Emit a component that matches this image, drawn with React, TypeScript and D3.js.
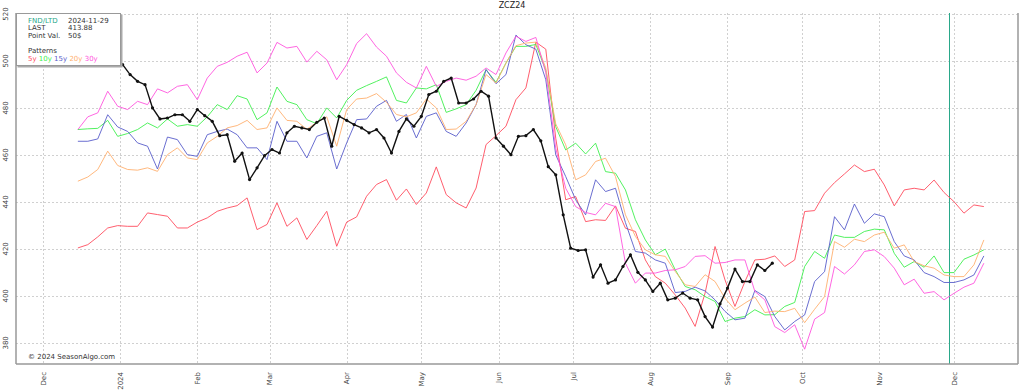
import { useEffect, useRef } from 'react';
import * as d3 from 'd3';

const title = 'ZCZ24';
const patternStart = '2023-12-15';
const patternStepDays = 4;
const currentStart = '2024-01-02';
const currentStepDays = 3;
const fndDate = '2024-11-29';
const lastPrice = '413.88';
const pointValue = '50$';

const monthTicks = ['2023-12-01', '2024-01-01', '2024-02-01', '2024-03-01', '2024-04-01', '2024-05-01', '2024-06-01', '2024-07-01', '2024-08-01', '2024-09-01', '2024-10-01', '2024-11-01', '2024-12-01'];
const monthLabels = ['Dec', '2024', 'Feb', 'Mar', 'Apr', 'May', 'Jun', 'Jul', 'Aug', 'Sep', 'Oct', 'Nov', 'Dec'];
const yTicks = [380, 400, 420, 440, 460, 480, 500, 520];

const pattern5y = [
	420.4, 421.8, 425.1, 428.9, 429.9, 429.6, 429.6, 435.3, 434.6, 433.9, 428.9, 428.9, 431.4, 433.2, 436, 437.4, 438.4, 441.7, 428.2, 430.4,
	439.6, 429.6, 433.2, 424, 429.9, 436, 421.1, 431.4, 433.6, 442.4, 447.4, 449.5, 440.7, 445.5, 438.9, 443.8, 454.9, 443.1, 439.6, 437.4,
	445.9, 464.4, 468.2, 472.2, 483.5, 488.5, 508, 505, 467.1, 440.9, 442.3, 431.6, 432.4, 432.1, 438.3, 428.8, 427.4, 415.3, 408.2, 405.4,
	400.4, 394.8, 387, 401.2, 421, 406.8, 395.5, 406.1, 415.3, 415.6, 417, 412.5, 415.3, 435.9, 436.3, 443.7, 448.2, 451.9, 455.7, 452.9,
	453.9, 447.2, 438.3, 445.1, 445.8, 445.1, 449.3, 444, 440.1, 435.2, 438.7, 438,
];
const pattern10y = [
	470.8, 471.1, 471.3, 474.7, 467.9, 469.1, 470.8, 473.6, 471.5, 475.3, 472.2, 472.9, 472.2, 476.2, 481.4, 479.3, 485.2, 483.8, 475, 477.9,
	488.9, 482.8, 481.4, 475, 473.3, 480, 475.7, 483.2, 487.5, 489.5, 491.3, 493.2, 483.2, 482.1, 488.5, 488.1, 489.9, 478.1, 479.6, 481.4,
	487.5, 496.3, 490.9, 499.1, 506.2, 506.2, 507, 496, 472, 462.1, 465, 460.4, 465, 452.9, 452.2, 445.1, 432.4, 423.8, 417.5, 419.9,
	411.1, 404, 402.6, 399.7, 397.6, 389.1, 390.5, 391.2, 394.1, 391.9, 392, 395.5, 397.2, 412.5, 418.9, 416, 425.9, 424.9, 424.9, 427.4,
	428.4, 428.1, 418.1, 412.2, 414.6, 412.2, 417, 409.9, 409.9, 415.6, 417.4, 419.6,
];
const pattern15y = [
	465.8, 465.8, 466.8, 477.1, 471.9, 470, 465.1, 463.7, 454, 467.6, 466.5, 460.1, 459.4, 468.6, 470, 471, 468.6, 463, 463, 458,
	474.3, 465.8, 465.8, 458.7, 467.9, 469.4, 454, 465.1, 475, 475.3, 480.7, 483.2, 474.3, 477.2, 467.2, 476.4, 477.9, 470, 467.9, 473.6,
	481.4, 496.3, 490.3, 494.2, 511, 506.9, 505, 492, 460, 450.8, 440.9, 434.5, 449.4, 444.4, 445.8, 431.2, 418.9, 418.2, 415.3, 413.9,
	401.4, 401.9, 403.7, 402.1, 398.3, 393.4, 389.8, 390.5, 402.3, 399.7, 391.2, 385.5, 389.1, 391.9, 406.1, 410.3, 433.7, 428.1, 439.1, 430.9,
	434.9, 433.7, 423.1, 417, 415.3, 409.9, 408.2, 405.7, 405.7, 406.8, 408.9, 417,
];
const pattern20y = [
	448.8, 450.6, 453.8, 461.6, 455.5, 453.8, 453.5, 454.5, 453, 460.1, 463, 458.7, 458, 465.1, 467.9, 471.5, 472.5, 474.7, 470.8, 471.5,
	480, 474.7, 474.3, 470.9, 473.9, 476.2, 463.7, 479.3, 483.8, 484.2, 486.1, 482.4, 477.2, 476.2, 477.9, 483.8, 480, 470.8, 471, 474.3,
	481.4, 494.2, 490.6, 499.1, 506.5, 507.6, 508, 497, 473.2, 464.3, 449.4, 451.5, 457.2, 458.6, 450.8, 434.5, 425.3, 419.6, 417.5, 416.8,
	410.4, 404.7, 404, 409, 406.1, 399, 394.1, 396.9, 399.5, 392.9, 393.5, 393.3, 394.7, 388.6, 394.3, 399.7, 423.1, 420.7, 424.1, 423.1,
	425.9, 427.1, 420.3, 421.7, 414.6, 412.8, 411.8, 408.9, 408.2, 408.2, 413.2, 423.8,
];
const pattern30y = [
	470.8, 476.2, 477.9, 487.1, 480.7, 479.3, 482.8, 481.4, 488.1, 486.4, 489.2, 489.9, 483.5, 492.7, 497.7, 499.4, 502, 503.7, 494.9, 499.1,
	507.9, 505.5, 506.2, 499.5, 504.1, 500.5, 492, 498.4, 507.4, 511.6, 505.9, 502, 494.9, 490.9, 488.5, 497.7, 489.2, 491.3, 492.7, 491.8,
	493.5, 497, 494.2, 503.4, 510.5, 508.3, 510, 495, 462.8, 445.8, 438, 435.5, 434.5, 439.4, 438, 413.9, 405.4, 409.7, 409.7, 410.8,
	411.1, 412.5, 416.8, 417.1, 413.9, 414.2, 415.3, 415.3, 401.9, 398.3, 386.9, 384.4, 387.7, 377.3, 390.1, 392.9, 412.5, 409.3, 413.2, 418.9,
	419.6, 416.7, 411.8, 404.7, 407.1, 401.1, 401.8, 398.3, 401.1, 403.7, 405.4, 413.9,
];
const current = [
	498.4, 494.2, 491.3, 489.9, 480, 475.3, 475.7, 477.1, 477.1, 474.3, 479.3, 476.7, 474.3, 468.2, 468.6, 457.3, 460.8, 449.5, 454.5, 459.7,
	462.3, 460.8, 469.4, 472.2, 471.5, 470.8, 473.9, 475.7, 463.7, 476.4, 474.7, 472.9, 471.5, 469.4, 470.8, 467.2, 460.8, 470, 475.3, 472.2,
	476.4, 485.7, 487.1, 491.3, 492.7, 482.1, 482.1, 483.8, 487.1, 485, 467.2, 463.7, 460.1, 467.9, 468.2, 470.8, 466, 455, 451.5, 434.5,
	420.3, 419.3, 419.6, 408, 413.2, 405.4, 406.8, 412.5, 417.5, 410, 406.8, 401.9, 405.4, 398.3, 399, 401.2, 399, 398.3, 391.2, 386.7,
	396.6, 403.3, 411.4, 406.1, 406.1, 413.2, 410.8, 413.9,
];

const patternNames = ['5y', '10y', '15y', '20y', '30y'];
const patternColors = ['#ff4d5e', '#3fef4f', '#5a5ecb', '#ffb070', '#ff55de'];

export default function App() {
	const svgRef = useRef<SVGSVGElement | null>(null);
	const width = 1023;
	const height = 391;

	useEffect(() => {
		if (!svgRef.current) return;
		const svg = d3.select(svgRef.current);
		svg.selectAll('*').remove();

		const plot = { left: 16, right: 1018, top: 13, bottom: 364 };
		const parse = d3.utcParse('%Y-%m-%d');

		const x = d3
			.scaleUtc()
			.domain([parse('2023-12-01')!, parse('2024-12-01')!])
			.range([43, 954]);
		const y = d3.scaleLinear().domain([371, 520.4]).range([plot.bottom, plot.top]);

		const font = 'DejaVu Sans, sans-serif';

		// grid
		const grid = svg.append('g').attr('stroke', '#d0d0d0').attr('stroke-dasharray', '2,2').attr('stroke-width', 1);
		yTicks.forEach((t) => {
			grid.append('line').attr('x1', plot.left).attr('x2', plot.right).attr('y1', Math.round(y(t)) + 0.5).attr('y2', Math.round(y(t)) + 0.5);
		});
		monthTicks.forEach((t) => {
			const px = Math.round(x(parse(t)!)) + 0.5;
			grid.append('line').attr('x1', px).attr('x2', px).attr('y1', plot.top).attr('y2', plot.bottom);
		});

		// FND line
		const fx = Math.round(x(parse(fndDate)!)) + 0.5;
		svg.append('line').attr('x1', fx).attr('x2', fx).attr('y1', plot.top).attr('y2', plot.bottom).attr('stroke', '#2aa88a').attr('stroke-width', 1);

		// patterns
		const pStart = parse(patternStart)!;
		const line = d3
			.line<[Date, number]>()
			.x((d) => x(d[0]))
			.y((d) => y(d[1]));
		[pattern5y, pattern10y, pattern15y, pattern20y, pattern30y].forEach((series, i) => {
			const pts = series.map((v, k) => [d3.utcDay.offset(pStart, k * patternStepDays), v] as [Date, number]);
			svg.append('path').datum(pts).attr('d', line).attr('fill', 'none').attr('stroke', patternColors[i]).attr('stroke-width', 1).attr('stroke-opacity', 0.9);
		});

		// current contract
		const cStart = parse(currentStart)!;
		const cur = current.map((v, j) => [d3.utcDay.offset(cStart, j * currentStepDays), v] as [Date, number]);
		svg.append('path').datum(cur).attr('d', line).attr('fill', 'none').attr('stroke', '#111').attr('stroke-width', 1.4);
		svg
			.append('g')
			.selectAll('circle')
			.data(cur)
			.join('circle')
			.attr('cx', (d) => x(d[0]))
			.attr('cy', (d) => y(d[1]))
			.attr('r', 1.6)
			.attr('fill', '#111');

		// frame
		const frame = svg.append('g').attr('stroke', '#999').attr('stroke-width', 1.5).attr('fill', 'none');
		frame.append('line').attr('x1', plot.left).attr('x2', plot.left).attr('y1', plot.top).attr('y2', plot.bottom);
		frame.append('line').attr('x1', plot.left).attr('x2', plot.right).attr('y1', plot.bottom).attr('y2', plot.bottom);
		frame.append('line').attr('x1', plot.right).attr('x2', plot.right).attr('y1', plot.top).attr('y2', plot.bottom);

		// y labels
		yTicks.forEach((t) => {
			svg
				.append('text')
				.attr('transform', `translate(8,${y(t)}) rotate(-90)`)
				.attr('text-anchor', 'middle')
				.style('font-family', font)
				.style('font-size', '7px')
				.style('fill', '#444')
				.text(String(t));
		});

		// x labels
		monthTicks.forEach((t, i) => {
			svg
				.append('text')
				.attr('transform', `translate(${x(parse(t)!) + 2.5},372) rotate(-90)`)
				.attr('text-anchor', 'end')
				.style('font-family', font)
				.style('font-size', '7px')
				.style('fill', '#444')
				.text(monthLabels[i]);
		});

		// title
		svg
			.append('text')
			.attr('x', 512)
			.attr('y', 8)
			.attr('text-anchor', 'middle')
			.style('font-family', font)
			.style('font-size', '8px')
			.style('fill', '#222')
			.text(title);

		// copyright
		svg
			.append('text')
			.attr('x', 28)
			.attr('y', 359)
			.style('font-family', font)
			.style('font-size', '7px')
			.style('fill', '#333')
			.text('© 2024 SeasonAlgo.com');

		// info box
		const box = svg.append('g');
		box.append('rect').attr('x', 17.5).attr('y', 14.5).attr('width', 105).attr('height', 53).attr('fill', '#aaa');
		box.append('rect').attr('x', 16.5).attr('y', 13.5).attr('width', 104).attr('height', 52).attr('fill', '#fff').attr('stroke', '#999');
		const info = [
			['FND/LTD', fndDate, '#2aa88a'],
			['LAST', lastPrice, '#333'],
			['Point Val.', pointValue, '#333'],
		];
		info.forEach((r, i) => {
			const ty = 23 + i * 7.3;
			box.append('text').attr('x', 28).attr('y', ty).style('font-family', font).style('font-size', '7px').style('fill', r[2]).text(r[0]);
			box.append('text').attr('x', 68).attr('y', ty).style('font-family', font).style('font-size', '7px').style('fill', '#333').text(r[1]);
		});
		box.append('text').attr('x', 28).attr('y', 53).style('font-family', font).style('font-size', '7px').style('fill', '#333').text('Patterns');
		const lt = box.append('text').attr('x', 28).attr('y', 61).style('font-family', font).style('font-size', '7px');
		patternNames.forEach((n, i) => {
			lt.append('tspan').style('fill', patternColors[i]).text(i === 0 ? n : ' ' + n);
		});
	}, []);

	return <svg ref={svgRef} width={width} height={height} style={{ position: 'absolute', left: 0, top: 0, background: '#fff' }} />;
}
